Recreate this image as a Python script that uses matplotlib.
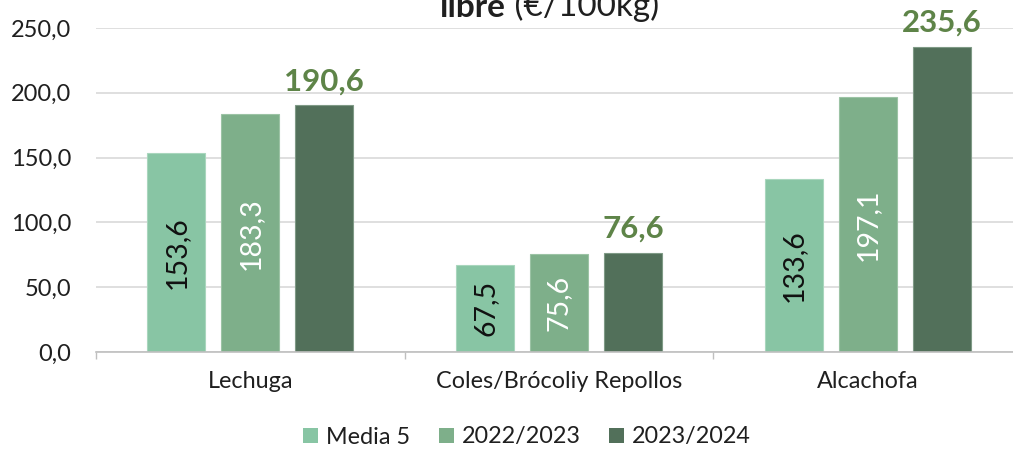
import numpy as np
import matplotlib
matplotlib.use("Agg")
import matplotlib.pyplot as plt
from matplotlib.patches import Patch

plt.rcParams['font.family'] = ['Lato', 'DejaVu Sans']

categories = ["Lechuga", "Coles/Brócoliy Repollos", "Alcachofa"]
series_names = ["Media 5", "2022/2023", "2023/2024"]
media5 = [153.6, 67.5, 133.6]
c2022 = [183.3, 75.6, 197.1]
c2023 = [190.6, 76.6, 235.6]
yticks = [0, 50, 100, 150, 200, 250]

colors = ["#88C5A4", "#7EAF8A", "#52705A"]
edge_colors = ["#A9D6BD", "#9CC3A5", "#7F9A86"]
inner_text = ["#111111", "#FFFFFF", None]
top_color = "#5E8448"
text_color = "#1F1F1F"

W, H = 1013, 449
fig = plt.figure(figsize=(W / 100, H / 100), dpi=100)
ax = fig.add_axes([96 / W, 1 - 352 / H, 926 / W, 324 / H])

x = np.arange(len(categories))
bw = 0.188
step = 0.2395
series = [media5, c2022, c2023]
for i, vals in enumerate(series):
    pos = x + (i - 1) * step
    ax.bar(pos, vals, width=bw, color=colors[i], edgecolor=edge_colors[i],
           linewidth=0.8, zorder=3, label=series_names[i])
    for xp, v in zip(pos, vals):
        lbl = f"{v:.1f}".replace(".", ",")
        if inner_text[i] is not None:
            ax.text(xp, v / 2, lbl, rotation=90, ha="center", va="center",
                    fontsize=20.5, color=inner_text[i], zorder=4)
        else:
            ax.annotate(lbl, xy=(xp, v), xytext=(0, 7), textcoords="offset points",
                        ha="center", va="bottom", fontsize=22.5, fontweight="bold",
                        color=top_color, annotation_clip=False, zorder=4)

ax.set_xlim(-0.5, 2.5)
ax.set_ylim(0, 250)
ax.set_yticks(yticks)
ax.set_yticklabels([f"{v:.1f}".replace(".", ",") for v in yticks],
                   fontsize=17, color=text_color)
ax.tick_params(axis="y", length=0, pad=18)
ax.set_xticks(x)
ax.set_xticklabels(categories, fontsize=16.8, color=text_color)
ax.tick_params(axis="x", which="major", length=0, pad=14)
ax.set_xticks([-0.5, 0.5, 1.5, 2.5], minor=True)
ax.tick_params(axis="x", which="minor", length=5, color="#BFBFBF", width=1)

ax.grid(axis="y", color="#D9D9D9", linewidth=1.2, zorder=0)
for s in ["left", "right", "top"]:
    ax.spines[s].set_visible(False)
ax.spines["bottom"].set_color("#BFBFBF")
ax.spines["bottom"].set_linewidth(1.2)
ax.spines["bottom"].set_zorder(5)

# Title (last line only, top part runs off the canvas)
ty = 1 - 17 / H
t1 = fig.text(440 / W, ty, "libre", ha="left", va="baseline",
              fontsize=24, fontweight="bold", color=text_color)
ax.annotate(" (€/100kg)", xy=(1, 0), xycoords=t1, ha="left", va="bottom",
            fontsize=24, color=text_color, annotation_clip=False)

handles = [Patch(facecolor=c, edgecolor="none") for c in colors]
fig.legend(handles, series_names, loc="center", bbox_to_anchor=(527 / W, 1 - 437 / H),
           ncol=3, frameon=False, fontsize=16.8, handlelength=0.65, handleheight=0.65,
           handletextpad=0.35, columnspacing=1.2, labelcolor=text_color,
           borderpad=0, borderaxespad=0)

fig.savefig("out.png", dpi=100)
